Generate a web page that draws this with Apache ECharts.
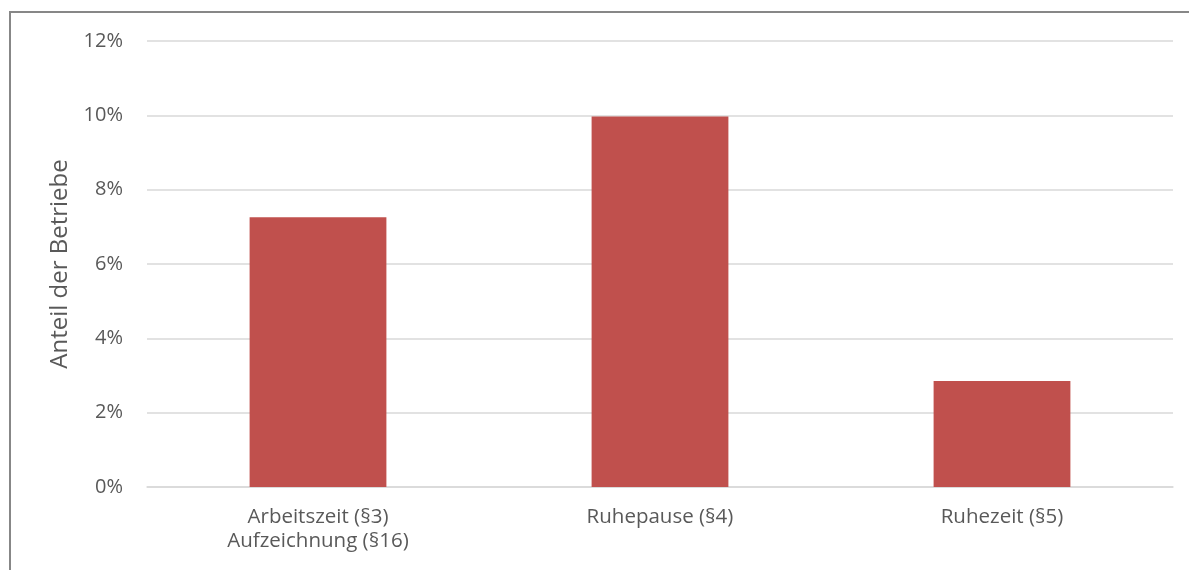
<!doctype html>
<html>
<head>
<meta charset="utf-8">
<title>Anteil der Betriebe</title>
<script src="https://cdn.jsdelivr.net/npm/echarts@6/dist/echarts.min.js"></script>
<style>
html,body{margin:0;padding:0;background:#fff;overflow:hidden;}
#frame{position:absolute;left:9px;top:11px;width:1300px;height:700px;border-left:2px solid #878787;border-top:2px solid #878787;}
#main{width:1189px;height:570px;position:absolute;left:0;top:0;}
</style>
</head>
<body>
<div id="frame"></div>
<div id="main"></div>
<script>
// Daten
var kategorien = ['Arbeitszeit (§3)\nAufzeichnung (§16)', 'Ruhepause (§4)', 'Ruhezeit (§5)'];
var anteile = [7.26, 9.97, 2.85];
var yTicks = [0, 2, 4, 6, 8, 10, 12];

var myChart = echarts.init(document.getElementById('main'));
myChart.setOption({
    animation: false,
    grid: {left: 147, right: 16, top: 41, bottom: 83},
    xAxis: {
        type: 'category',
        data: kategorien,
        axisLine: {show: true, lineStyle: {color: '#d9d9d9', width: 1.5}},
        axisTick: {show: false},
        axisLabel: {
            color: '#595959',
            fontFamily: 'Open Sans',
            fontSize: 20.5,
            lineHeight: 24,
            margin: 18
        }
    },
    yAxis: {
        type: 'value',
        min: yTicks[0],
        max: yTicks[yTicks.length - 1],
        interval: 2,
        name: 'Anteil der Betriebe',
        nameLocation: 'middle',
        nameGap: 75,
        nameTextStyle: {color: '#595959', fontFamily: 'Open Sans', fontSize: 24},
        axisLine: {show: false},
        axisTick: {show: false},
        splitLine: {lineStyle: {color: '#d9d9d9', width: 1.5}},
        axisLabel: {
            color: '#595959',
            fontFamily: 'Open Sans',
            fontSize: 20,
            margin: 24,
            formatter: function (v) { return v + '%'; }
        }
    },
    series: [{
        type: 'bar',
        data: anteile,
        barWidth: '40%',
        itemStyle: {color: '#c0504d'}
    }]
});
</script>
</body>
</html>
